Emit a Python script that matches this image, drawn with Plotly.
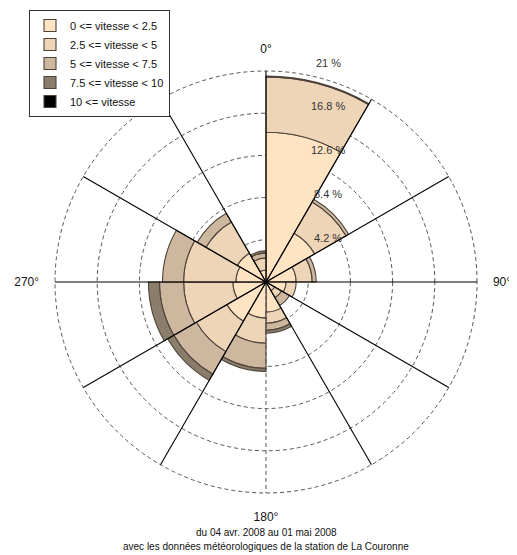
import math
import plotly.graph_objects as go

# ---------------- data ----------------
directions = [15, 45, 75, 105, 135, 165, 195, 225, 255, 285, 315, 345]   # sector centres (deg)
sector_edges = [0, 30, 60, 90, 120, 150, 180, 210, 240, 270, 300, 330]  # sector boundaries (deg)
classes = ["0 <= vitesse < 2.5", "2.5 <= vitesse < 5", "5 <= vitesse < 7.5",
           "7.5 <= vitesse < 10", "10 <= vitesse"]
v_0_25 = [14.9, 5.6, 3.0, 2.0, 1.0, 3.0, 3.6, 4.5, 3.3, 3.0, 3.3, 1.2]
v_25_5 = [5.5, 3.6, 1.6, 1.0, 0.8, 1.1, 2.5, 3.5, 4.9, 5.2, 3.6, 1.2]
v_5_75 = [0.1, 0.3, 0.4, 0.0, 0.9, 0.7, 2.5, 2.6, 2.4, 2.1, 1.0, 0.5]
v_75_10 = [0.0, 0.0, 0.0, 0.0, 0.0, 0.3, 0.3, 0.7, 1.1, 0.0, 0.0, 0.2]
v_10 = [0.0] * 12
ring_ticks = [4.2, 8.4, 12.6, 16.8, 21]
angle_ticks = [0, 90, 180, 270]
angle_labels = ["0°", "90°", "180°", "270°"]
subtitle_lines = ["du 04 avr. 2008 au 01 mai 2008",
                  "avec les données météorologiques de la station de La Couronne"]

series = [v_0_25, v_25_5, v_5_75, v_75_10, v_10]
colors = ["#FFE4C4", "#EED5B7", "#CDB79E", "#8B7D6B", "#000000"]

# ---------------- layout geometry ----------------
OFF = 8                      # page body margin
W, H = 517 - OFF, 555 - OFF
CX, CY, R = 266 - OFF, 282 - OFF, 211   # centre and radius of the 21 % circle (px)
RMAX = ring_ticks[-1]
RRANGE = 21.5
RDOM = R * RRANGE / RMAX
FONT = "Liberation Sans, Arial, sans-serif"

fig = go.Figure()

# dashed southern boundary line (drawn below bars)
fig.add_trace(go.Scatterpolar(
    r=[0, RMAX], theta=[180, 180], mode="lines",
    line=dict(color="#555555", width=1, dash="4px,3px"),
    showlegend=False, hoverinfo="skip"))

for name, vals, col in zip(classes, series, colors):
    fig.add_trace(go.Barpolar(
        r=vals, theta=directions, width=[30] * len(directions), name=name,
        marker=dict(color=col, line=dict(color="#4d433a", width=1.1)),
        hoverinfo="skip"))

# solid sector boundary lines (above bars)
for a in sector_edges:
    if a == 180:
        continue
    fig.add_trace(go.Scatterpolar(
        r=[0, RMAX], theta=[a, a], mode="lines",
        line=dict(color="black", width=1.1),
        showlegend=False, hoverinfo="skip"))

# radial percentage labels
ann = []
for t in ring_ticks:
    px = CX + 6.2 * R / RMAX
    py = CY - 1.04 * t * R / RMAX
    ann.append(dict(x=px / W, y=1 - py / H, xref="paper", yref="paper",
                    text=f"{t:g} %", showarrow=False,
                    font=dict(family=FONT, size=11, color="#333333"),
                    xanchor="center", yanchor="middle"))
for i, line in enumerate(subtitle_lines):
    ann.append(dict(x=CX / W, y=1 - (532 - OFF + 14 * i) / H, xref="paper", yref="paper",
                    text=line, showarrow=False,
                    font=dict(family=FONT, size=10, color="#111111"),
                    xanchor="center", yanchor="middle"))

fig.update_layout(
    width=W, height=H,
    margin=dict(l=0, r=0, t=0, b=0),
    paper_bgcolor="white", plot_bgcolor="white",
    font=dict(family=FONT, size=11, color="#111111"),
    polar=dict(
        domain=dict(x=[(CX - RDOM) / W, (CX + RDOM) / W],
                    y=[1 - (CY + RDOM) / H, 1 - (CY - RDOM) / H]),
        bgcolor="white",
        bargap=0,
        barmode="stack",
        radialaxis=dict(range=[0, RRANGE], tickvals=ring_ticks, showticklabels=False,
                        ticks="", showline=False, showgrid=True,
                        gridcolor="#555555", gridwidth=1, griddash="4px,3px",
                        layer="above traces"),
        angularaxis=dict(rotation=90, direction="clockwise",
                         tickvals=angle_ticks, ticktext=angle_labels,
                         showgrid=False, showline=False,
                         ticks="outside", ticklen=8, tickcolor="rgba(0,0,0,0)",
                         tickfont=dict(family=FONT, size=12, color="#111111")),
    ),
    legend=dict(x=(29 - OFF) / W, y=1 - (10 - OFF) / H, xanchor="left", yanchor="top",
                bgcolor="white", bordercolor="#333333", borderwidth=1,
                font=dict(family=FONT, size=11, color="#111111"),
                traceorder="normal"),
    annotations=ann,
)

fig.write_html("out.html")
